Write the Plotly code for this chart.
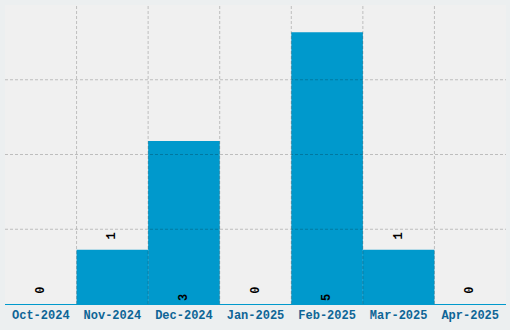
import plotly.graph_objects as go

months = ["Oct-2024", "Nov-2024", "Dec-2024", "Jan-2025", "Feb-2025", "Mar-2025", "Apr-2025"]
counts = [0, 1, 3, 0, 5, 1, 0]
label_pos = ["outside", "outside", "inside", "outside", "inside", "outside", "outside"]

xs = list(range(len(months)))
y_max = 5.5
font = "Liberation Mono"
grid_color = "rgba(0,0,0,0.21)"
grid_dash = "3px,2px"

labels = [(" " + str(c)) if p == "outside" else str(c) for c, p in zip(counts, label_pos)]

fig = go.Figure()
fig.add_trace(go.Bar(
    x=xs, y=counts, width=1,
    marker=dict(color="#0099CC", line=dict(width=0)),
    text=labels, textposition=label_pos,
    insidetextanchor="start", textangle=-90,
    textfont=dict(family=font, size=12, color="#000000", weight="bold"),
    cliponaxis=False, showlegend=False, hoverinfo="skip",
))

# dashed grid drawn above the bars (category boundaries and quarter heights)
shapes = []
for i in xs[:-1]:
    shapes.append(dict(type="line", layer="above", xref="x", yref="paper",
                       x0=i + 0.5, x1=i + 0.5, y0=0, y1=1,
                       line=dict(color=grid_color, width=1, dash=grid_dash)))
for k in range(1, 4):
    shapes.append(dict(type="line", layer="above", xref="paper", yref="y",
                       x0=0, x1=1, y0=y_max * k / 4, y1=y_max * k / 4,
                       line=dict(color=grid_color, width=1, dash=grid_dash)))

fig.update_layout(
    width=510, height=330,
    margin=dict(l=5, r=4, t=5, b=26),
    paper_bgcolor="#ECEFF0", plot_bgcolor="#F0F0F0",
    shapes=shapes,
    xaxis=dict(range=[-0.5, len(months) - 0.5], tickvals=xs, ticktext=months,
               showgrid=False, zeroline=False, showline=True, linecolor="#0099CC", linewidth=1,
               ticks="", tickfont=dict(family=font, size=12, color="#0E6596", weight="bold")),
    yaxis=dict(range=[0, y_max], showgrid=False, zeroline=False, showticklabels=False, ticks=""),
)
fig.write_html("out.html")
